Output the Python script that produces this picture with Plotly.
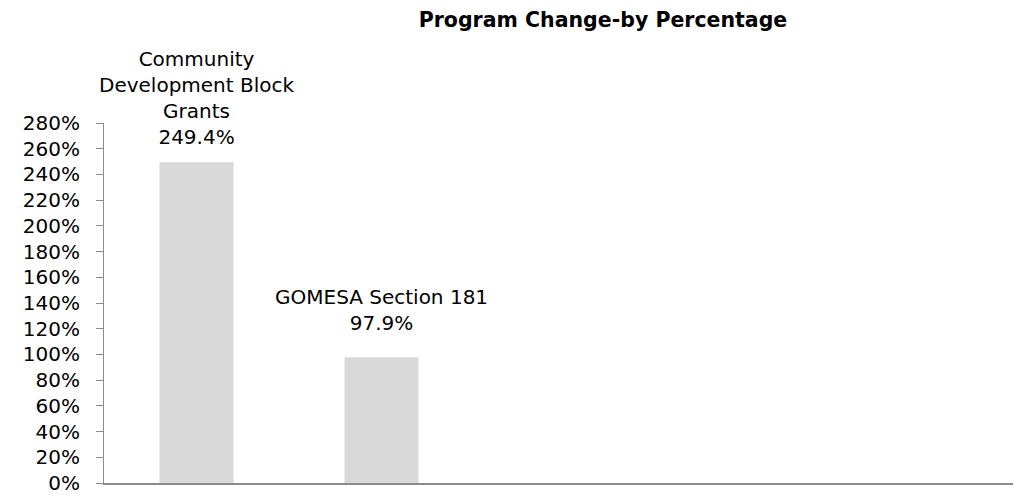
import plotly.graph_objects as go

# ---- data ----
categories = ["Community Development Block Grants", "GOMESA Section 181"]
label_lines = [["Community", "Development Block", "Grants"], ["GOMESA Section 181"]]
pct_change = [249.4, 97.9]
n_slots = 5  # category slots on the axis (remaining ones empty)
y_ticks = list(range(0, 281, 20))
y_tick_text = [f"{v}%" for v in y_ticks]

# ---- style ----
FONT = "DejaVu Sans"
LABEL_SHIFT = [11, 20]  # pixel gap between bar top and its data label
x_pos = list(range(len(categories)))

# page body has an 8px default margin; size the figure to fit the window
W, H, PAD = 1021 - 8, 500 - 8, 8

fig = go.Figure()
fig.add_trace(go.Bar(
    x=x_pos,
    y=pct_change,
    width=0.4,
    marker=dict(color="#d9d9d9", line=dict(width=0)),
    hovertext=categories,
    showlegend=False,
))

for xi, val, lines, sh in zip(x_pos, pct_change, label_lines, LABEL_SHIFT):
    fig.add_annotation(
        x=xi, y=val, xref="x", yref="y",
        text="<br>".join(lines + [f"{val:.1f}%"]),
        showarrow=False, yanchor="bottom", xanchor="center",
        yshift=sh,
        font=dict(family=FONT, size=20, color="#000000"),
    )

fig.update_layout(
    width=W, height=H,
    paper_bgcolor="white", plot_bgcolor="white",
    margin=dict(l=104 - PAD, r=0, t=123 - PAD, b=17),
    title=dict(
        text="<b>Program Change-by Percentage</b>",
        x=(603 - PAD) / W, xanchor="center", xref="container",
        y=1 - (20 - PAD) / H, yanchor="middle", yref="container",
        font=dict(family=FONT, size=20.5, color="#000000"),
    ),
    font=dict(family=FONT, size=20, color="#000000"),
    bargap=0.6,
)
fig.update_xaxes(
    range=[-0.5, -0.5 + 917 / 185],
    showticklabels=False, ticks="",
    showgrid=False, zeroline=False,
    showline=True, linecolor="#8c8c8c", linewidth=2,
)
fig.update_yaxes(
    range=[0, 280],
    tickmode="array", tickvals=y_ticks, ticktext=y_tick_text,
    ticks="outside", ticklen=7, tickcolor="#8c8c8c", tickwidth=1,
    showgrid=False, zeroline=False,
    showline=True, linecolor="#8c8c8c", linewidth=1,
    ticklabelstandoff=12,
    tickfont=dict(family=FONT, size=20, color="#000000"),
)

fig.write_html("out.html")
